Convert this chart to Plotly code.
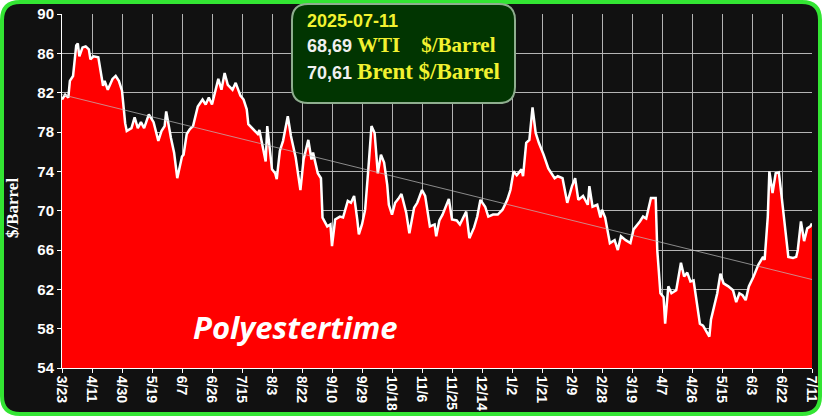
import pandas as pd
import plotly.graph_objects as go

# oil price (days counted from 2024-03-23)
start_date = "2024-03-23"
end_date = "2025-07-11"
day_offsets = [
    0, 2, 4, 5, 7, 9, 10, 11, 13, 15, 17, 18, 20, 23, 26, 27, 29, 32, 34, 36,
    38, 40, 41, 44, 46, 48, 50, 52, 55, 58, 61, 63, 65, 66, 69, 71, 73, 76, 77, 79,
    81, 83, 86, 89, 91, 93, 95, 97, 99, 101, 103, 105, 108, 110, 113, 115, 117, 118, 121, 124,
    125, 127, 129, 130, 133, 135, 136, 138, 140, 143, 145, 148, 151, 153, 156, 158, 159, 162, 164, 165,
    168, 170, 171, 173, 176, 178, 181, 183, 185, 187, 188, 190, 192, 194, 196, 198, 200, 202, 204, 206,
    207, 209, 211, 213, 215, 218, 220, 223, 225, 228, 230, 233, 236, 237, 239, 241, 243, 245, 247, 250,
    252, 256, 258, 261, 263, 265, 268, 270, 273, 276, 279, 282, 284, 286, 288, 291, 292, 294, 296, 298,
    300, 302, 305, 308, 312, 314, 317, 320, 323, 325, 327, 330, 333, 334, 336, 339, 341, 342, 344, 347,
    350, 352, 354, 357, 360, 362, 366, 368, 370, 371, 373, 376, 377, 379, 381, 382, 384, 386, 389, 392,
    394, 396, 398, 400, 404, 406, 408, 410, 411, 413, 415, 417, 419, 422, 425, 427, 429, 431, 433, 435,
    438, 441, 444, 445, 447, 448, 450, 452, 454, 456, 458, 460, 463, 465, 466, 468, 470, 472, 474, 475,
]
prices = [
    81.3, 81.8, 81.5, 83.2, 83.7, 86.8, 87.0, 85.7, 86.6, 86.7, 86.4, 85.4, 85.7, 85.6, 82.7, 83.2, 82.3, 83.4, 83.7, 83.2,
    82.2, 78.9, 78.1, 78.4, 79.5, 78.4, 79.0, 78.4, 79.8, 79.0, 77.1, 78.1, 78.6, 80.1, 77.4, 75.9, 73.3, 75.5, 75.7, 77.8,
    78.3, 78.6, 80.6, 81.3, 80.8, 81.5, 80.8, 82.0, 83.4, 82.3, 84.0, 82.8, 82.3, 83.0, 81.7, 81.3, 80.3, 78.8, 78.3, 77.8,
    78.2, 76.4, 75.0, 78.6, 74.2, 73.8, 73.2, 76.1, 77.1, 79.6, 77.6, 75.4, 72.1, 75.2, 77.2, 75.2, 75.9, 73.8, 73.3, 69.3,
    68.4, 68.6, 66.4, 69.1, 69.4, 69.3, 71.0, 70.8, 71.5, 69.1, 67.6, 68.6, 70.1, 74.2, 78.6, 77.9, 73.8, 75.7, 74.9, 72.6,
    70.6, 69.6, 70.8, 71.2, 71.7, 69.8, 67.7, 70.3, 70.8, 72.1, 71.5, 68.4, 68.6, 67.4, 69.0, 69.6, 70.4, 71.2, 69.1, 69.0,
    68.6, 69.9, 67.2, 68.3, 69.4, 71.1, 70.4, 69.4, 69.6, 69.6, 70.1, 71.1, 72.1, 74.0, 73.6, 74.2, 73.5, 76.9, 77.2, 80.5,
    77.9, 76.9, 75.7, 74.3, 73.3, 73.5, 73.3, 70.8, 72.5, 73.3, 71.1, 71.5, 70.6, 72.5, 70.4, 70.6, 69.3, 70.1, 69.3, 66.7,
    67.0, 66.0, 67.4, 67.0, 66.7, 68.1, 68.9, 69.4, 69.2, 69.9, 71.3, 71.3, 66.0, 61.6, 61.2, 58.5, 62.3, 61.6, 61.9, 64.7,
    63.3, 63.7, 62.8, 62.9, 58.5, 58.3, 57.7, 57.2, 58.9, 60.2, 61.6, 63.6, 62.6, 62.3, 61.9, 60.7, 61.6, 61.4, 60.9, 62.3,
    63.3, 64.5, 65.3, 65.0, 69.4, 74.0, 71.8, 73.8, 73.9, 71.1, 68.1, 65.3, 65.2, 65.3, 66.0, 68.9, 66.9, 68.2, 68.4, 68.7,
]
# trend line end values
trend_values = [81.8, 63.0]

info_date = "2025-07-11"
wti_price = "68,69"
brent_price = "70,61"

dates = pd.to_datetime(start_date) + pd.to_timedelta(day_offsets, unit="D")

W, H = 823, 417
L, R, T, B = 62, 11, 14, 49
PW, PH = W - L - R, H - T - B


def px(x):
    return (x - L) / PW


def py(y):
    return (H - B - y) / PH


def rounded_rect(x0, y0, x1, y1, r):
    # path in paper coordinates from pixel corners
    rx, ry = r / PW, r / PH
    a, b, c, d = px(x0), py(y1), px(x1), py(y0)
    return (f"M {a+rx},{b} L {c-rx},{b} Q {c},{b} {c},{b+ry} "
            f"L {c},{d-ry} Q {c},{d} {c-rx},{d} L {a+rx},{d} "
            f"Q {a},{d} {a},{d-ry} L {a},{b+ry} Q {a},{b} {a+rx},{b} Z")


fig = go.Figure()
fig.add_trace(go.Scatter(
    x=dates, y=prices, mode="lines", fill="tozeroy",
    fillcolor="#ff0000", line=dict(color="white", width=2.5),
))
fig.add_trace(go.Scatter(
    x=[dates[0], dates[-1]], y=trend_values, mode="lines",
    line=dict(color="rgba(190,190,190,0.7)", width=1),
))

fig.update_layout(
    width=W, height=H,
    margin=dict(l=L, r=R, t=T, b=B),
    paper_bgcolor="white",
    plot_bgcolor="#111111",
    showlegend=False,
    font=dict(family="Liberation Sans", color="white"),
    shapes=[
        dict(type="path", xref="paper", yref="paper", layer="below",
             path=rounded_rect(2, 2, 820, 414, 18),
             fillcolor="#111111", line=dict(color="#33e533", width=4)),
        dict(type="path", xref="paper", yref="paper", layer="above",
             path=rounded_rect(292, 4, 515, 103, 16),
             fillcolor="#013501", line=dict(color="#8fae8f", width=2)),
    ],
)

fig.update_xaxes(
    type="date", range=[start_date, end_date], automargin=False,
    tick0=start_date, dtick=19 * 86400000, tickformat="%-m/%-d",
    tickangle=90, tickfont=dict(size=14, weight="bold", color="white"),
    showgrid=True, gridcolor="#b4b4b4", gridwidth=1,
    showline=True, linecolor="white", linewidth=1,
    ticks="outside", tickcolor="white", ticklen=4,
)
fig.update_yaxes(
    range=[54, 90], tick0=54, dtick=4, automargin=False,
    tickfont=dict(size=15, weight="bold", color="white"),
    showgrid=True, gridcolor="#b4b4b4", gridwidth=1, zeroline=False,
    showline=True, linecolor="white", linewidth=1,
    ticks="outside", tickcolor="white", ticklen=4,
)

# y axis title sits a bit below the middle in the original
fig.add_annotation(
    xref="paper", yref="paper", x=px(13), y=py(208), xanchor="center", yanchor="middle",
    showarrow=False, textangle=-90, text="<b>$/Barrel</b>",
    font=dict(family="Liberation Serif", size=17, color="white"),
)

yellow = "#f2f230"
serif = "font-family:Liberation Serif"
fig.add_annotation(
    xref="paper", yref="paper", x=px(305), y=py(21), xanchor="left", yanchor="middle",
    showarrow=False, text=f"<b>{info_date}</b>",
    font=dict(size=18, color=yellow),
)
fig.add_annotation(
    xref="paper", yref="paper", x=px(305), y=py(45), xanchor="left", yanchor="middle",
    showarrow=False,
    text=(f"<b>{wti_price} <span style='{serif};color:{yellow};font-size:21px'>WTI"
          f"&nbsp;&nbsp;&nbsp; $/Barrel</span></b>"),
    font=dict(size=18, color="#f0f0f0"),
)
fig.add_annotation(
    xref="paper", yref="paper", x=px(305), y=py(71), xanchor="left", yanchor="middle",
    showarrow=False,
    text=(f"<b>{brent_price} <span style='{serif};color:{yellow};font-size:23px'>Brent"
          f" $/Barrel</span></b>"),
    font=dict(size=18, color="#f0f0f0"),
)
fig.add_annotation(
    xref="paper", yref="paper", x=px(295), y=py(327), xanchor="center", yanchor="middle",
    showarrow=False, text="Polyestertime",
    font=dict(family="Open Sans", size=31, style="italic", weight="bold", color="white"),
)

fig.write_html("out.html", config={"displayModeBar": False},
               post_script="document.body.style.margin='0';")
